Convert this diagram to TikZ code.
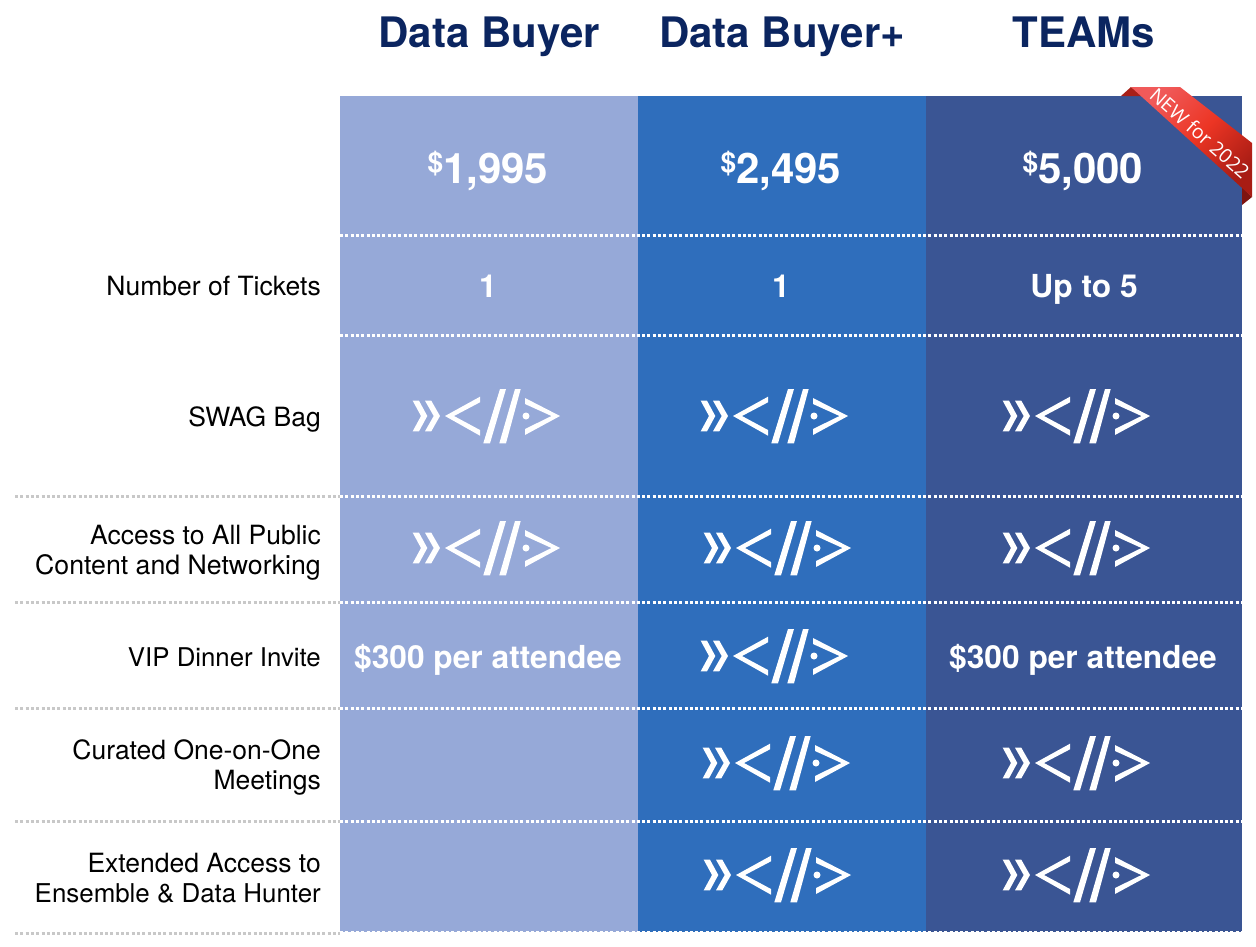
\documentclass[tikz,border=0pt]{standalone}
\usepackage{fontspec}
\setmainfont{TeX Gyre Heros}
\newfontfamily\ribbonfont{Open Sans}
\definecolor{colA}{HTML}{96A9D8}
\definecolor{colB}{HTML}{2F6EBC}
\definecolor{colC}{HTML}{3A5594}
\definecolor{headblue}{HTML}{0B2560}
\definecolor{rulegrey}{HTML}{C8C8C8}
\definecolor{ribA}{HTML}{F05A5A}
\definecolor{ribB}{HTML}{EC3524}
\definecolor{ribC}{HTML}{A81C14}
\definecolor{foldA}{HTML}{A82018}
\definecolor{foldB}{HTML}{7E1410}
\tikzset{
  x=1pt,y=-1pt,
  header/.style={font=\fontsize{42}{44}\selectfont\bfseries,text=headblue,anchor=base,inner sep=0},
  price/.style={font=\fontsize{42}{44}\selectfont\bfseries,text=white,anchor=base,inner sep=0},
  cell/.style={font=\fontsize{31.7}{34}\selectfont\bfseries,text=white,anchor=base,inner sep=0},
  rowlabel/.style={font=\fontsize{26.5}{30}\selectfont,align=right,anchor=east,inner sep=0,text=black},
  rowbase/.style={font=\fontsize{26.5}{30}\selectfont,anchor=base east,inner sep=0,text=black},
  whiterule/.style={draw=white,line width=3pt,dash pattern=on 3pt off 2.3pt},
  greyrule/.style={draw=rulegrey,line width=3pt,dash pattern=on 3pt off 2.3pt},
  logo/.pic={
    \fill[white] (0.7,-15.3) -- (7,-15.3) -- (15.3,0) -- (7,15.3) -- (0.7,15.3) -- (9,0) -- cycle;
    \fill[white] (13,-15.3) -- (19.3,-15.3) -- (28,0) -- (19.3,15.3) -- (13,15.3) -- (21.7,0) -- cycle;
    \fill[white] (68,-19.3) -- (33,0) -- (68,19.7) -- (68,14) -- (42,0) -- (68,-13.7) -- cycle;
    \fill[white] (88,-27) -- (94,-27) -- (78,27.3) -- (71.3,27.3) -- cycle;
    \fill[white] (103,-27) -- (108.7,-27) -- (94,27.3) -- (87.3,27.3) -- cycle;
    \fill[white] (114,0) circle (3.5);
    \fill[white] (113,-18) -- (148,0) -- (113,19) -- (113,13) -- (139.5,0) -- (113,-12) -- cycle;
  }
}
\newcommand{\dollarsup}{\raisebox{10.5pt}{\fontsize{28}{28}\selectfont\$}}
\begin{document}
\begin{tikzpicture}
\useasboundingbox (0,0) rectangle (1256,946);
\fill[white] (0,0) rectangle (1256,946);
\fill[colA] (340,96) rectangle (638,932);
\fill[colB] (638,96) rectangle (926,932);
\fill[colC] (926,96) rectangle (1242,932);
% ribbon
\fill[foldA] (1121,96) -- (1131,87) -- (1143,96) -- cycle;
\fill[foldB] (1242,187) -- (1252,197) -- (1242,205) -- cycle;
\shade[left color=ribA,right color=ribC,middle color=ribB,shading angle=45]
 (1131,87) -- (1180,87) -- (1252,143) -- (1252,197) -- cycle;
\node[rotate=-41.5,text=white,font=\ribbonfont\fontsize{19.5}{20}\selectfont,inner sep=0] (ribbontext) at (1200,133) {NEW for 2022};
% headers
\node[header] (h1) at (489,47) {Data Buyer};
\node[header] (h2) at (782,47) {Data Buyer+};
\node[header] (h3) at (1084,47) {TEAMs};
% prices
\node[price] (p1) at (488,183) {\dollarsup 1,995};
\node[price] (p2) at (781,183) {\dollarsup 2,495};
\node[price] (p3) at (1083,183) {\dollarsup 5,000};
% rules
\foreach \y in {235,335,496,602,708,821,932} \draw[whiterule] (340,\y) -- (1242,\y);
\foreach \y in {496,602,708,821,933} \draw[greyrule] (15,\y) -- (340,\y);
% labels
\node[rowbase] (l1) at (321,295) {Number of Tickets};
\node[rowbase] (l2) at (321,426) {SWAG Bag};
\node[rowlabel] (l3) at (321,553) {Access to All Public\\\fontsize{26.7}{30}\selectfont Content and Networking};
\node[rowbase,font=\fontsize{25.8}{30}\selectfont] (l4) at (321,666) {VIP Dinner Invite};
\node[rowlabel] (l5) at (321,767) {Curated One-on-One\\Meetings};
\node[rowlabel] (l6) at (321,878) {Extended Access to\\\fontsize{25.9}{30}\selectfont Ensemble \& Data Hunter};
% cells
\node[cell] (c11) at (488,297) {1};
\node[cell] (c12) at (781,297) {1};
\node[cell] (c13) at (1084,297) {Up to 5};
\node[cell] (c41) at (488,668) {\$300 per attendee};
\node[cell] (c43) at (1083,668) {\$300 per attendee};
% logos
\pic at (412,416) {logo};
\pic at (700,416) {logo};
\pic at (1002,416) {logo};
\pic at (412,548) {logo};
\pic at (703,548) {logo};
\pic at (1002,548) {logo};
\pic at (700,656) {logo};
\pic at (702,763) {logo};
\pic at (1002,763) {logo};
\pic at (703,875) {logo};
\pic at (1002,875) {logo};
\end{tikzpicture}
\end{document}
